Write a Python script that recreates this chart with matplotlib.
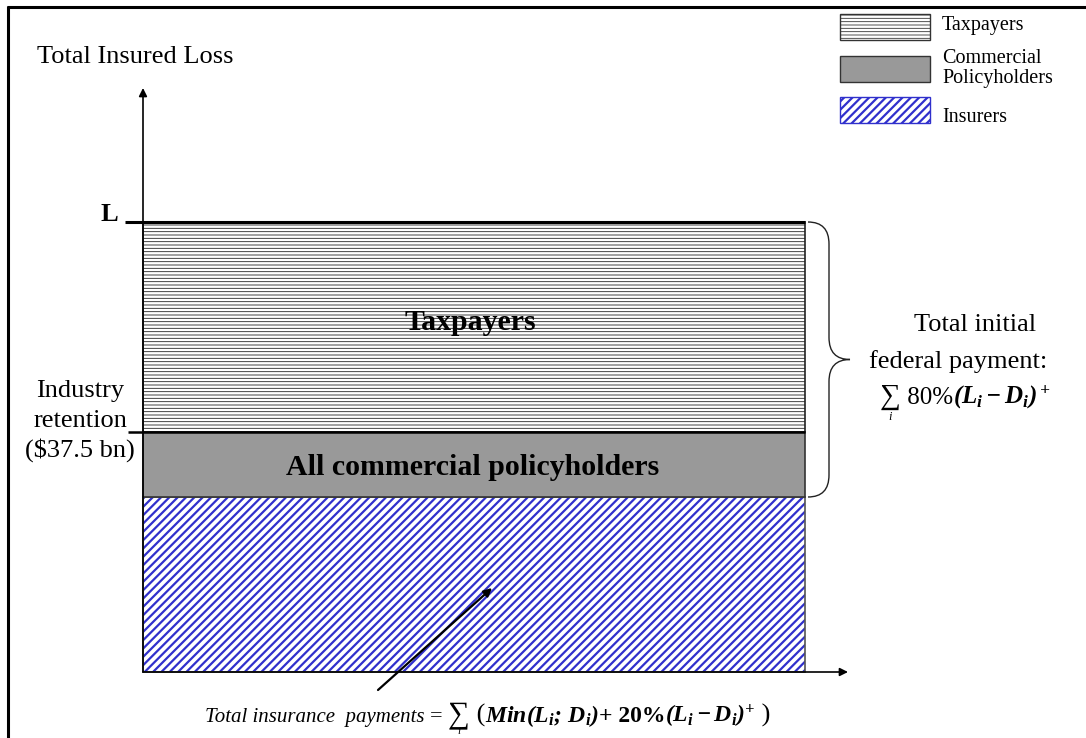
import matplotlib
matplotlib.use('Agg')
import matplotlib.pyplot as plt
from matplotlib.path import Path
from matplotlib.patches import PathPatch, Rectangle

plt.rcParams['font.family'] = 'Liberation Serif'
plt.rcParams['mathtext.fontset'] = 'custom'
plt.rcParams['mathtext.rm'] = 'Liberation Serif'
plt.rcParams['mathtext.it'] = 'Liberation Serif:italic'
plt.rcParams['mathtext.bf'] = 'Liberation Serif:bold:italic'

# layers of the total insured loss, stacked from the bottom
layers = ['Insurers', 'All commercial policyholders', 'Taxpayers']
layer_heights = [175, 65, 210]
layer_width = 662
legend_labels = [['Taxpayers'], ['Commercial', 'Policyholders'], ['Insurers']]
retention_label = ['Industry', 'retention', '($37.5 bn)']

gray = '#999999'
blue = '#3030cc'

fig = plt.figure(figsize=(10.86, 7.38), dpi=100)
ax = fig.add_axes([0, 0, 1, 1])
ax.set_xlim(-143, 943)
ax.set_ylim(-66, 672)
ax.axis('off')
renderer = fig.canvas.get_renderer()


def hatched(patch, lw):
    if hasattr(patch, 'set_hatch_linewidth'):
        patch.set_hatch_linewidth(lw)
    return patch


def text_row(x, y, pieces):
    # place pieces one after another on a common baseline
    out = []
    for s, kw in pieces:
        t = ax.text(x, y, s, ha='left', va='baseline', **kw)
        bb = t.get_window_extent(renderer)
        x = ax.transData.inverted().transform((bb.x1, 0))[0]
        out.append(t)
    return out


def sum_index(t, y, size=9):
    bb = t.get_window_extent(renderer)
    xc = ax.transData.inverted().transform(((bb.x0 + bb.x1) / 2, 0))[0]
    ax.text(xc, y, 'i', ha='center', va='top', fontsize=size, style='italic')


bottoms = [sum(layer_heights[:i]) for i in range(len(layer_heights))]
top = sum(layer_heights)

# insurers: blue diagonal hatch
plt.rcParams['hatch.linewidth'] = 1.6
b = ax.bar(0, layer_heights[0], bottom=bottoms[0], width=layer_width, align='edge',
           facecolor='white', edgecolor=blue, hatch='////', linewidth=0)
hatched(b[0], 1.6)
ax.bar(0, layer_heights[0], bottom=bottoms[0], width=layer_width, align='edge',
       fill=False, edgecolor='#555555', linewidth=1.2)
# commercial policyholders: plain gray
ax.bar(0, layer_heights[1], bottom=bottoms[1], width=layer_width, align='edge',
       facecolor=gray, edgecolor='#333333', linewidth=1.2)
# taxpayers: horizontal lines
plt.rcParams['hatch.linewidth'] = 0.6
b = ax.bar(0, layer_heights[2], bottom=bottoms[2], width=layer_width, align='edge',
           facecolor='white', edgecolor='#222222', hatch='-----', linewidth=1.2)
hatched(b[0], 0.6)

ax.text(layer_width / 2 - 4, bottoms[2] + 102, layers[2], ha='center', va='baseline',
        fontsize=21.5, fontweight='bold')
ax.text(layer_width / 2 - 1, bottoms[1] + 22, layers[1], ha='center', va='baseline',
        fontsize=21.5, fontweight='bold')

# thick level lines
ax.plot([-18, layer_width], [top, top], color='black', lw=2.2, solid_capstyle='butt')
ax.plot([-15, layer_width], [bottoms[2], bottoms[2]], color='black', lw=1.8,
        solid_capstyle='butt')

# axes with arrows
ax.annotate('', xy=(0, 584), xytext=(0, 0),
            arrowprops=dict(arrowstyle='-|>', color='black', lw=1.2,
                            mutation_scale=12, shrinkA=0, shrinkB=0))
ax.annotate('', xy=(705, 0), xytext=(0, 0),
            arrowprops=dict(arrowstyle='-|>', color='black', lw=1.2,
                            mutation_scale=12, shrinkA=0, shrinkB=0))

ax.text(-106, 609, 'Total Insured Loss', ha='left', va='baseline', fontsize=19)
ax.text(-34, top + 1, 'L', ha='center', va='baseline', fontsize=19, fontweight='bold')
for k, line in enumerate(retention_label):
    ax.text(-63, 275 - 30 * k, line, ha='center', va='baseline', fontsize=19)

# brace on the right
x0, x1, xt = layer_width + 3, layer_width + 24, layer_width + 45
ytop, ybot = top, bottoms[1]
ymid = (ytop + ybot) / 2
r = 22
verts = [(x0, ytop), (x1, ytop), (x1, ytop - r), (x1, ymid + r),
         (x1, ymid), (xt, ymid), (x1, ymid), (x1, ymid - r),
         (x1, ybot + r), (x1, ybot), (x0, ybot)]
codes = [Path.MOVETO, Path.CURVE3, Path.CURVE3, Path.LINETO,
         Path.CURVE3, Path.CURVE3, Path.CURVE3, Path.CURVE3,
         Path.LINETO, Path.CURVE3, Path.CURVE3]
ax.add_patch(PathPatch(Path(verts, codes), fill=False, edgecolor='#222222', lw=1.0))

ax.text(832, 341, 'Total initial', ha='center', va='baseline', fontsize=19)
ax.text(815, 304, 'federal payment:', ha='center', va='baseline', fontsize=19)
rt = text_row(737, 268, [('\u2211', dict(fontsize=21)),
                         (' 80%', dict(fontsize=18)),
                         (r'$\mathbf{(L_i - D_i)^+}$', dict(fontsize=18))])
sum_index(rt[0], 261)

# pointer to the insurers block
ax.annotate('', xy=(349, 84), xytext=(235, -18),
            arrowprops=dict(arrowstyle='-|>', color='black', lw=1.6,
                            mutation_scale=12, shrinkA=0, shrinkB=0))
bt = text_row(62, -50, [('Total insurance  payments ', dict(fontsize=15, style='italic')),
                        ('= ', dict(fontsize=16)),
                        ('\u2211', dict(fontsize=22)),
                        (' (', dict(fontsize=19)),
                        (r'$\mathbf{Min(L_i;\,D_i)}$', dict(fontsize=17)),
                        ('+ 20%', dict(fontsize=17, fontweight='bold')),
                        (r'$\mathbf{(L_i - D_i)^{+}}$', dict(fontsize=17)),
                        (' )', dict(fontsize=19))])
sum_index(bt[2], -55, size=8)

# outer frame (left and top edges only)
ax.plot([-135, -135], [-66, 666], color='black', lw=2.2, solid_capstyle='butt')
ax.plot([-136, 943], [665, 665], color='black', lw=2.2, solid_capstyle='butt')

# legend
legend_styles = [dict(facecolor='white', edgecolor='#333333', hatch='-----'),
                 dict(facecolor=gray, edgecolor='#333333'),
                 dict(facecolor='white', edgecolor=blue, hatch='////')]
hatch_widths = [0.6, 1.0, 1.6]
box_tops = [658, 616, 575]
box_height = 26
label_base = [[642], [609, 589], [550]]
for lines, st, bt_, hw, ys in zip(legend_labels, legend_styles, box_tops, hatch_widths,
                                  label_base):
    plt.rcParams['hatch.linewidth'] = hw
    p = ax.add_patch(Rectangle((697, bt_ - box_height), 90, box_height, linewidth=1.0, **st))
    hatched(p, hw)
    for line, y in zip(lines, ys):
        ax.text(799, y, line, ha='left', va='baseline', fontsize=14.5)

plt.savefig('out.png', dpi=100)
